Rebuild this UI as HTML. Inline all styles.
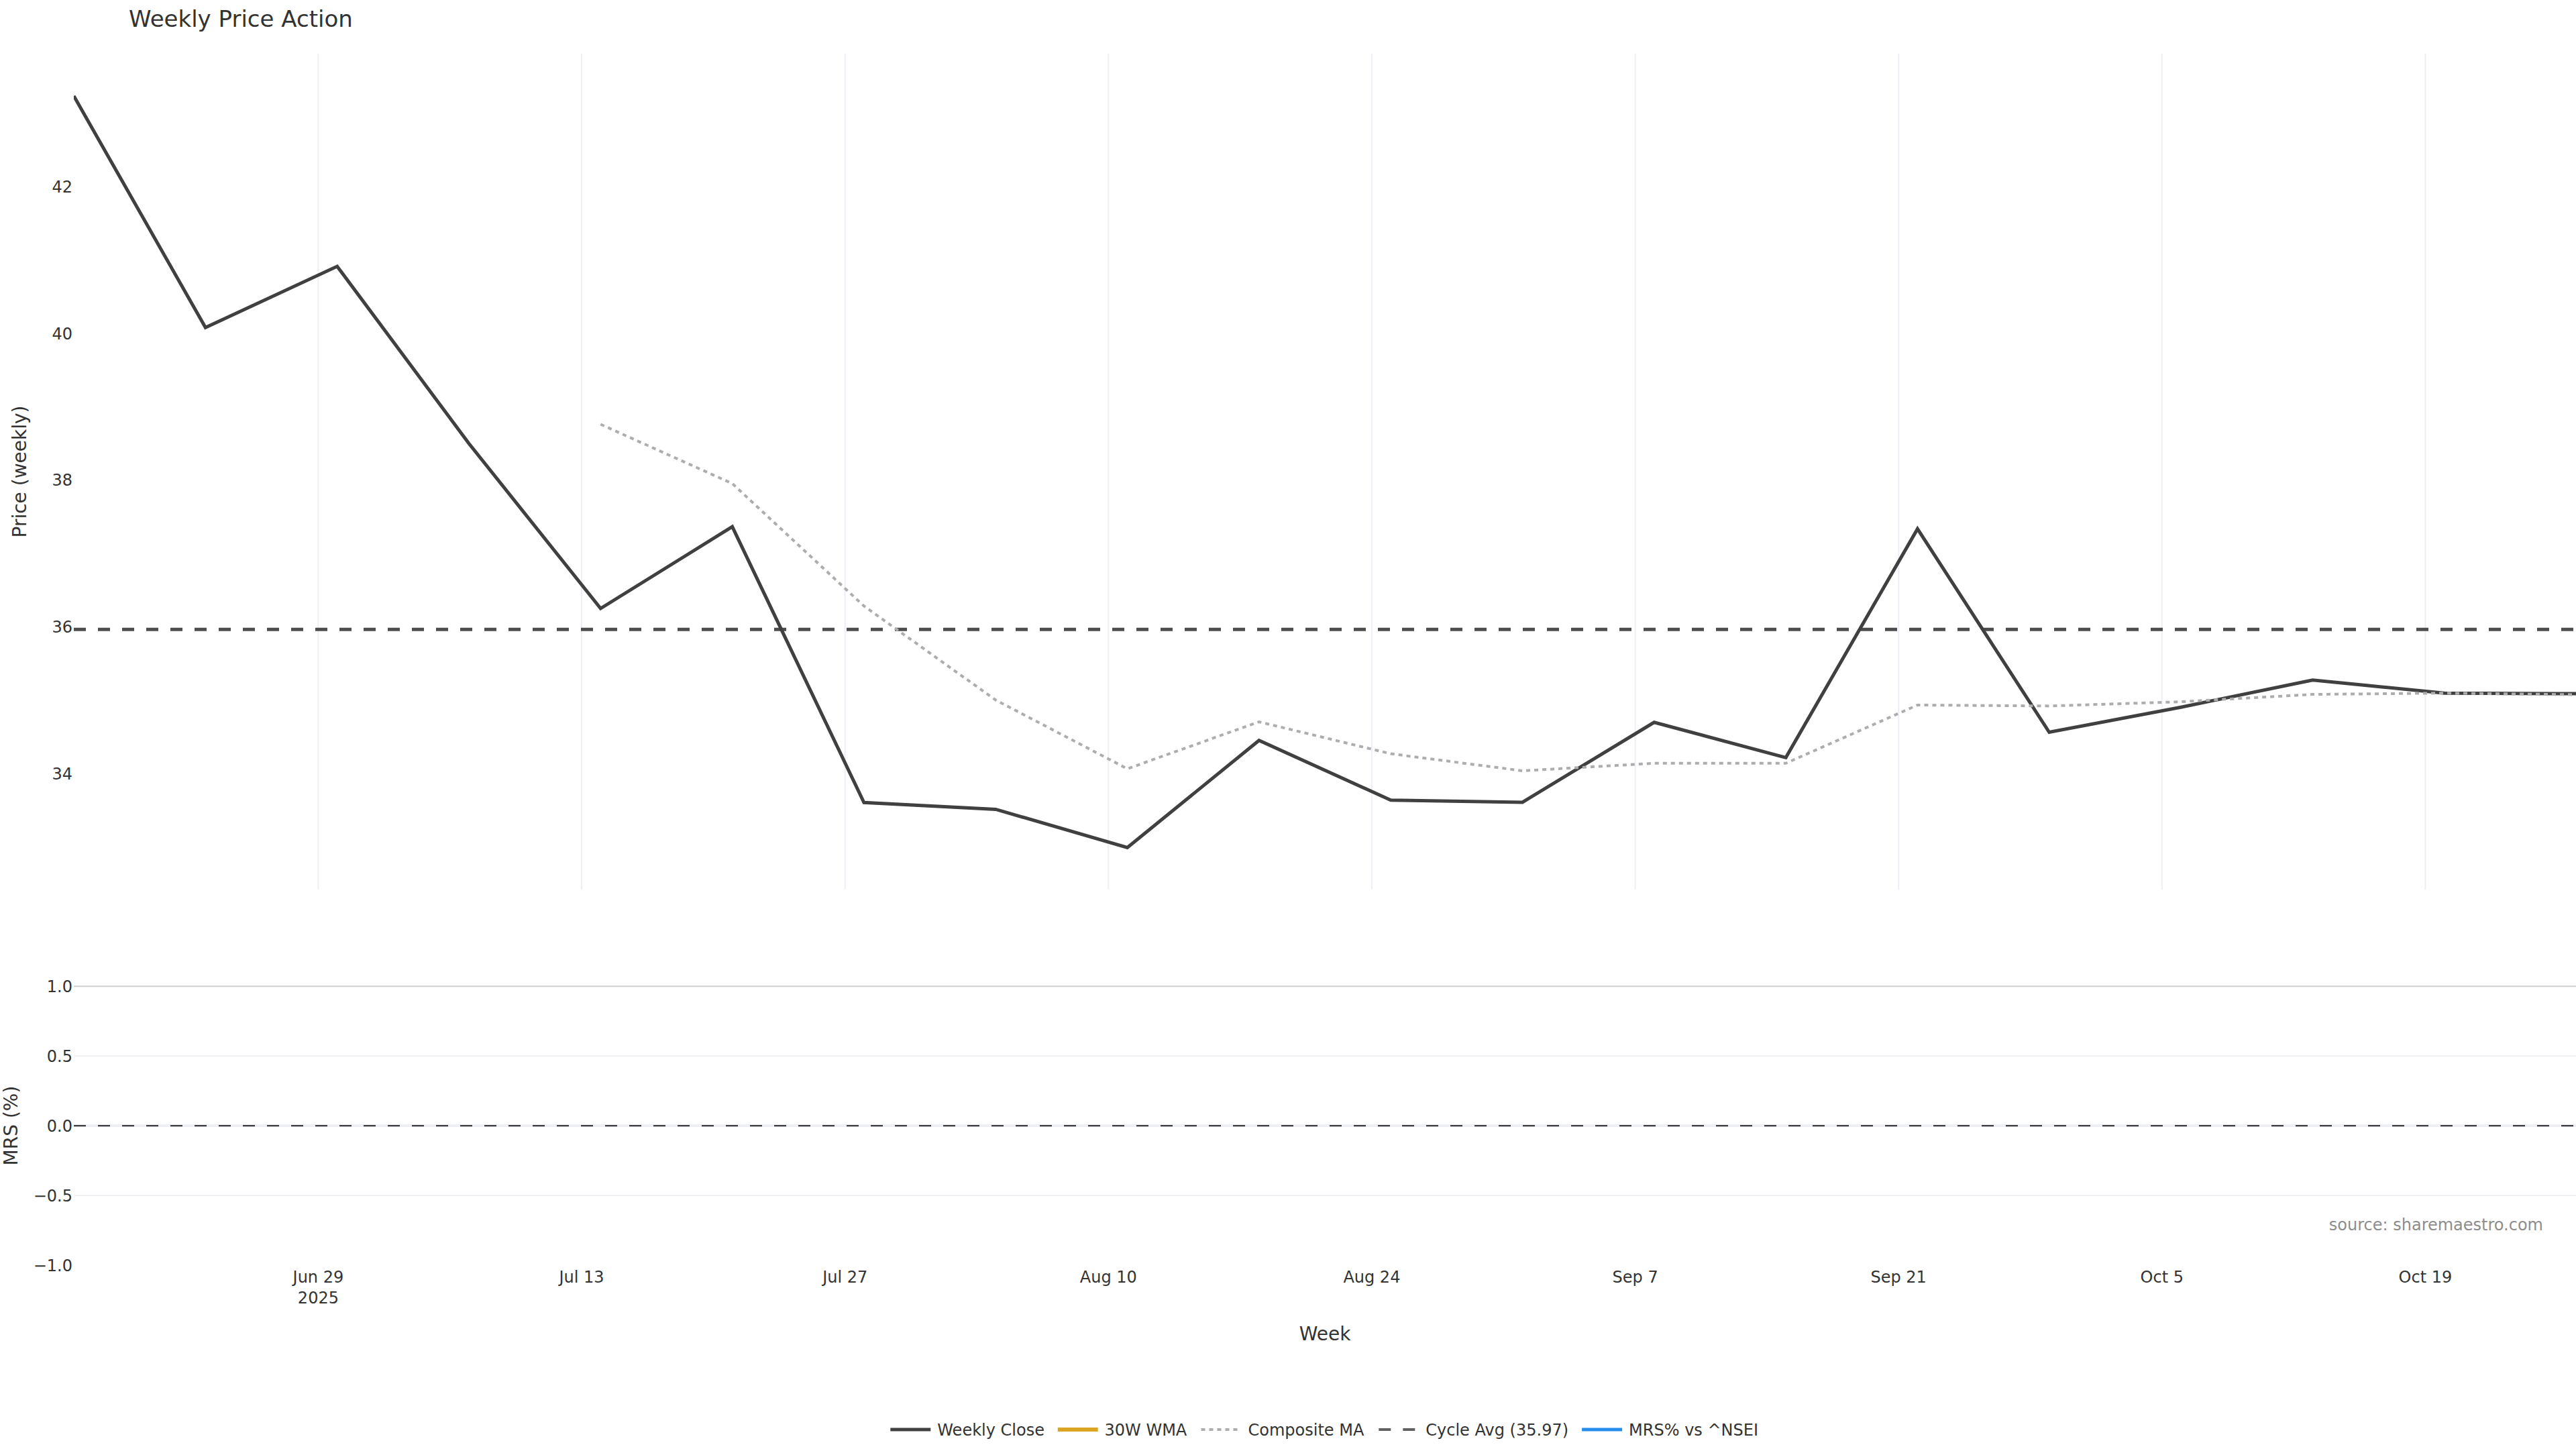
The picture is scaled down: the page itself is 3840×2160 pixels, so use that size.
<!DOCTYPE html>
<html lang="en"><head><meta charset="utf-8"><title>Weekly Price Action</title>
<style>html,body{margin:0;padding:0;background:#fff;overflow:hidden;}svg{display:block;}text{font-family:"DejaVu Sans", "Liberation Sans", sans-serif;fill:#333333;}</style></head><body>
<svg width="3840" height="2160" viewBox="0 0 3840 2160">
<rect x="0" y="0" width="3840" height="2160" fill="#ffffff"/>
<defs><clipPath id="c1"><rect x="110" y="80" width="3730" height="1246"/></clipPath><clipPath id="c2"><rect x="110" y="1470" width="3730" height="416"/></clipPath></defs>
<g stroke="#EDEFF6" stroke-width="2">
<line x1="474.4" y1="80" x2="474.4" y2="1326"/>
<line x1="867.0" y1="80" x2="867.0" y2="1326"/>
<line x1="1259.7" y1="80" x2="1259.7" y2="1326"/>
<line x1="1652.3" y1="80" x2="1652.3" y2="1326"/>
<line x1="2044.9" y1="80" x2="2044.9" y2="1326"/>
<line x1="2437.6" y1="80" x2="2437.6" y2="1326"/>
<line x1="2830.2" y1="80" x2="2830.2" y2="1326"/>
<line x1="3222.8" y1="80" x2="3222.8" y2="1326"/>
<line x1="3615.4" y1="80" x2="3615.4" y2="1326"/>
</g>
<g>
<line x1="110" y1="1574" x2="3840" y2="1574" stroke="#EDEFF5" stroke-width="2"/>
<line x1="110" y1="1782" x2="3840" y2="1782" stroke="#EDEFF5" stroke-width="2"/>
<line x1="110" y1="1678" x2="3840" y2="1678" stroke="#EDEFF5" stroke-width="4"/>
<line x1="110" y1="1470.3" x2="3840" y2="1470.3" stroke="#cfcfcf" stroke-width="2"/>
</g>
<g clip-path="url(#c1)" fill="none">
<line x1="110" y1="938.2" x2="3840" y2="938.2" stroke="#4d4d4d" stroke-width="5" stroke-dasharray="18,18"/>
<polyline points="110.0,143.0 306.3,488.2 502.6,397.0 698.9,661.0 895.3,907.0 1091.6,785.2 1287.9,1196.3 1484.2,1206.4 1680.5,1263.5 1876.8,1103.7 2073.2,1192.8 2269.5,1195.9 2465.8,1076.8 2662.1,1129.3 2858.4,788.4 3054.7,1091.5 3251.1,1054.2 3447.4,1013.7 3643.7,1033.2 3840.0,1034.1" stroke="#404040" stroke-width="5" stroke-linejoin="miter" stroke-miterlimit="4"/>
<polyline points="895.3,632.5 1091.6,720.8 1287.9,903.4 1484.2,1043.5 1680.5,1146.0 1876.8,1076.0 2073.2,1123.6 2269.5,1149.0 2465.8,1137.8 2662.1,1137.8 2858.4,1051.0 3054.7,1052.4 3251.1,1046.1 3447.4,1035.1 3643.7,1033.2 3840.0,1035.5" stroke="#adadad" stroke-width="4" stroke-dasharray="6,6" stroke-linejoin="miter"/>
</g>
<g clip-path="url(#c2)" fill="none">
<line x1="110" y1="1678.1" x2="3840" y2="1678.1" stroke="#3e3e3e" stroke-width="2.2" stroke-dasharray="18,18"/>
</g>
<text x="192" y="40" font-size="34">Weekly Price Action</text>
<g font-size="24" text-anchor="end">
<text x="108" y="287.0">42</text>
<text x="108" y="505.6">40</text>
<text x="108" y="724.3">38</text>
<text x="108" y="943.0">36</text>
<text x="108" y="1161.8">34</text>
<text x="108" y="1478.8">1.0</text>
<text x="108" y="1582.8">0.5</text>
<text x="108" y="1686.8">0.0</text>
<text x="108" y="1790.8">−0.5</text>
<text x="108" y="1894.8">−1.0</text>
</g>
<g font-size="24" text-anchor="middle">
<text x="474.4" y="1912">Jun 29</text>
<text x="867.0" y="1912">Jul 13</text>
<text x="1259.7" y="1912">Jul 27</text>
<text x="1652.3" y="1912">Aug 10</text>
<text x="2044.9" y="1912">Aug 24</text>
<text x="2437.6" y="1912">Sep 7</text>
<text x="2830.2" y="1912">Sep 21</text>
<text x="3222.8" y="1912">Oct 5</text>
<text x="3615.4" y="1912">Oct 19</text>
<text x="474.4" y="1943">2025</text>
</g>
<text x="1975" y="1998" font-size="28" text-anchor="middle">Week</text>
<text transform="translate(39.3,703) rotate(-90)" font-size="28" text-anchor="middle">Price (weekly)</text>
<text transform="translate(26,1678) rotate(-90)" font-size="28" text-anchor="middle">MRS (%)</text>
<text x="3791" y="1833.6" font-size="24" text-anchor="end" style="fill:#8d8d8d">source: sharemaestro.com</text>
<g fill="none">
<line x1="1327.3" y1="2131.0" x2="1387.3" y2="2131.0" stroke="#404040" stroke-width="5.2"/>
<line x1="1576.8" y1="2131.0" x2="1636.7" y2="2131.0" stroke="#DAA520" stroke-width="6"/>
<line x1="1790.5" y1="2131.0" x2="1850.5" y2="2131.0" stroke="#adadad" stroke-width="4" stroke-dasharray="6,6"/>
<line x1="2055.3" y1="2131.0" x2="2115.3" y2="2131.0" stroke="#626262" stroke-width="4" stroke-dasharray="18,18"/>
<line x1="2358.1" y1="2131.0" x2="2418.1" y2="2131.0" stroke="#258CEE" stroke-width="5.2"/>
</g>
<g font-size="24">
<text x="1397.3" y="2140.3">Weekly Close</text>
<text x="1646.5" y="2140.3">30W WMA</text>
<text x="1860.5" y="2140.3">Composite MA</text>
<text x="2125.3" y="2140.3">Cycle Avg (35.97)</text>
<text x="2428.1" y="2140.3">MRS% vs ^NSEI</text>
</g>
</svg></body></html>
